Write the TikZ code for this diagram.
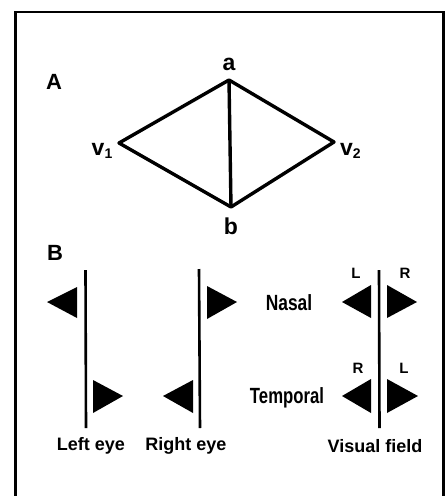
\documentclass[tikz,border=0pt]{standalone}
\usepackage{fontspec}
\setmainfont{Liberation Sans}
\begin{document}
\begin{tikzpicture}[x=1pt,y=-1pt,
  lbl/.style={font=\bfseries\fontsize{18}{20}\selectfont, inner sep=0pt},
  big/.style={font=\bfseries\fontsize{22}{24}\selectfont, inner sep=0pt},
  vlbl/.style={font=\bfseries\fontsize{23}{25}\selectfont, inner sep=0pt},
  sm/.style={font=\bfseries\fontsize{15}{17}\selectfont, inner sep=0pt},
  edge/.style={line width=3.4pt, line join=round},
  meridian/.style={line width=2.6pt},
  tri/.style={fill=black}]
\useasboundingbox (0,0) rectangle (446,496);
% frame
\draw[line width=2.8pt] (15.5,496) -- (15.5,12) -- (443.5,12) -- (443.5,496);
% Part A
\node[big] (labA) at (54,82) {A};
\coordinate (a) at (229,80);
\coordinate (b) at (231,207);
\coordinate (v1) at (119,143);
\coordinate (v2) at (334,142);
\draw[edge] (v1) -- (a) -- (v2) -- (b) -- cycle;
\draw[edge] (a) -- (b);
\node[vlbl] (la) at (229,64) {a};
\node[vlbl] (lb) at (231,226) {b};
\node[vlbl, anchor=east] (lv1) at (113,151) {v\textsubscript{\fontsize{14}{14}\selectfont 1}};
\node[vlbl, anchor=west] (lv2) at (340,151) {v\textsubscript{\fontsize{14}{14}\selectfont 2}};
% Part B
\node[big] (labB) at (55,253) {B};
% left eye
\coordinate (le1) at (85.5,270);
\coordinate (le2) at (86,428);
\draw[meridian] (le1) -- (le2);
\fill[tri] (77,287) -- (77,318) -- (47,302) -- cycle;
\fill[tri] (93,380) -- (93,413) -- (123,396) -- cycle;
% right eye
\coordinate (re1) at (199,269);
\coordinate (re2) at (200,428);
\draw[meridian] (re1) -- (re2);
\fill[tri] (207,286) -- (207,319) -- (237,302) -- cycle;
\fill[tri] (193,380) -- (193,413) -- (163,396) -- cycle;
% visual field
\coordinate (vf1) at (379,270);
\coordinate (vf2) at (379.5,428);
\draw[meridian] (vf1) -- (vf2);
\fill[tri] (371,285) -- (371,318) -- (342,302) -- cycle;
\fill[tri] (387,285) -- (387,318) -- (417,302) -- cycle;
\fill[tri] (371,379) -- (371,413) -- (342,396) -- cycle;
\fill[tri] (387,379) -- (387,413) -- (418,396) -- cycle;
\node[sm] (nl) at (356,273) {L};
\node[sm] (nr) at (405,273) {R};
\node[sm] (tr) at (358,368) {R};
\node[sm] (tl) at (404,368) {L};
\node[big] (nasal) at (289,303) {\scalebox{0.79}[1]{Nasal}};
\node[big] (temporal) at (287,398) {\scalebox{0.76}[1]{Temporal}};
\node[lbl] (lefteye) at (91,446) {Left eye};
\node[lbl] (righteye) at (186,446) {Right eye};
\node[lbl] (vfield) at (375,446) {Visual field};
\end{tikzpicture}
\end{document}
